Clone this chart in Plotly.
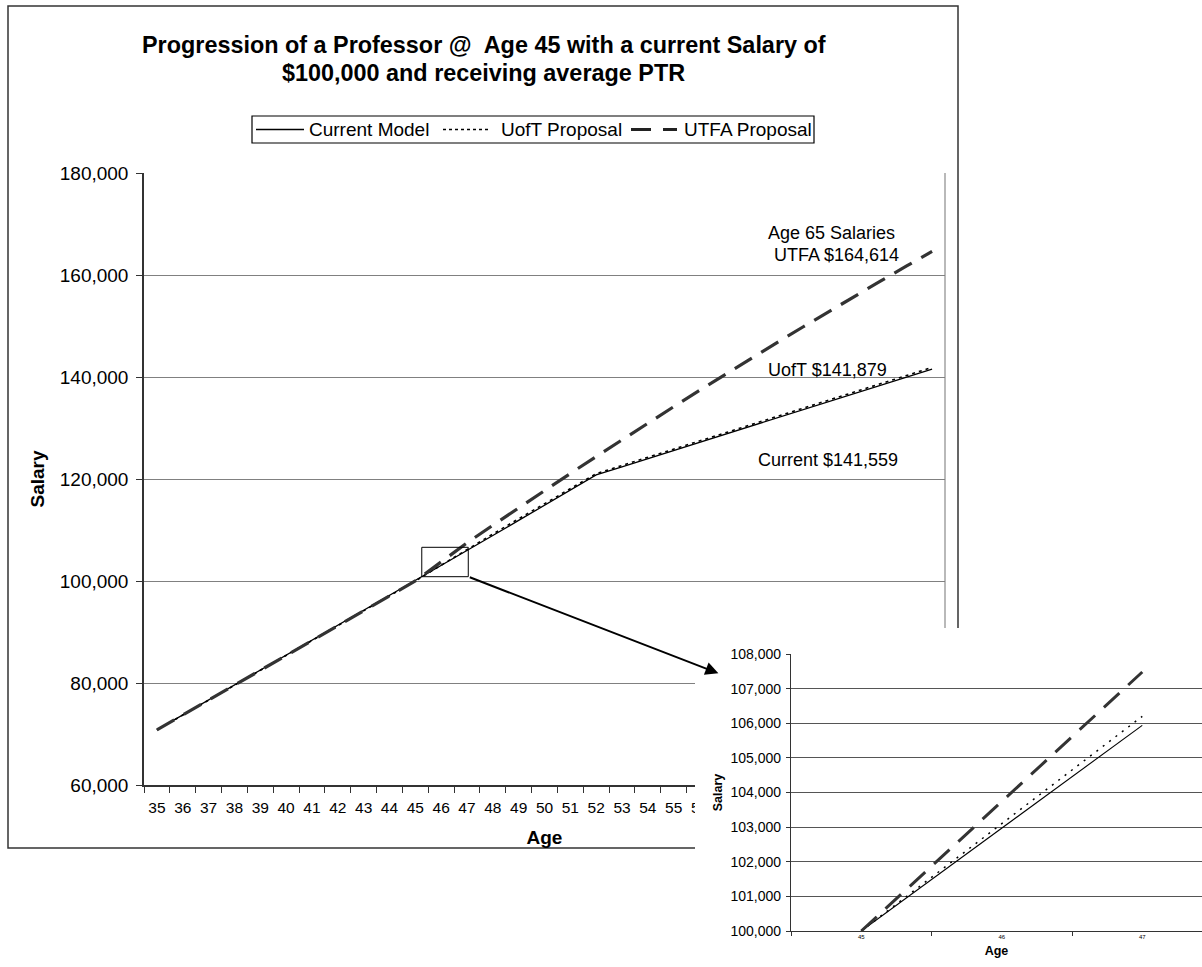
import plotly.graph_objects as go

W, H = 1202, 967
FONT = "Arial, Liberation Sans, sans-serif"

# ---- data -------------------------------------------------------------
ages = [35, 36, 37, 38, 39, 40, 41, 42, 43, 44, 45, 46, 47, 48, 49, 50,
        51, 52, 53, 54, 55, 56, 57, 58, 59, 60, 61, 62, 63, 64, 65]

current_model = [70800, 73720, 76640, 79560, 82480, 85400, 88320, 91240,
                 94160, 97080, 100000, 102970, 105940, 108910, 111880,
                 114850, 117820, 120790, 122388, 123985, 125583, 127181,
                 128778, 130376, 131974, 133571, 135169, 136766, 138364,
                 139962, 141559]

uoft_proposal = [70800, 73720, 76640, 79560, 82480, 85400, 88320, 91240,
                 94160, 97080, 100000, 103100, 106200, 109200, 112200,
                 115150, 118100, 121050, 122652, 124254, 125856, 127459,
                 129061, 130663, 132265, 133867, 135469, 137071, 138673,
                 140276, 141879]

utfa_proposal = [70800, 73720, 76640, 79560, 82480, 85400, 88320, 91240,
                 94160, 97080, 100000, 103740, 107480, 110930, 114348,
                 117733, 121086, 124406, 127694, 130950, 134173, 137364,
                 140522, 143648, 146742, 149803, 152832, 155829, 158793,
                 161725, 164614]

series_names = ["Current Model", "UofT Proposal", "UTFA Proposal"]

# detail view: ages 45 to 47
inset_ages = [45, 46, 47]

main_y_ticks = [60000, 80000, 100000, 120000, 140000, 160000, 180000]
inset_y_ticks = [100000, 101000, 102000, 103000, 104000, 105000, 106000,
                 107000, 108000]

# last age whose tick label is not under the detail panel
last_labelled_age = 56

title_lines = ["Progression of a Professor @  Age 45 with a current Salary of",
               "$100,000 and receiving average PTR"]


# ---- helpers ----------------------------------------------------------
def px_x(p):
    return p / W


def px_y(p):
    return 1 - p / H


cats = [str(a) for a in ages]
i0 = ages.index(inset_ages[0])
i1 = ages.index(inset_ages[-1]) + 1
inset_cats = [str(a) for a in inset_ages]
hidden_labels = {str(a): "" for a in ages if a > last_labelled_age}

all_series = [current_model, uoft_proposal, utfa_proposal]
main_styles = [
    dict(color="black", width=1.3, dash="solid"),
    dict(color="black", width=1.6, dash="3px,4px"),
    dict(color="#333333", width=3.2, dash="20px,11px"),
]
legend_styles = [
    dict(color="black", width=1.3, dash="solid"),
    dict(color="black", width=1.5, dash="3px,3px"),
    dict(color="#222222", width=3.2, dash="20px,12px"),
]
inset_styles = [
    dict(color="black", width=1.1, dash="solid"),
    dict(color="black", width=1.5, dash="2px,6px"),
    dict(color="#333333", width=3.0, dash="21px,12px"),
]

fig = go.Figure()

# main chart
for name, vals, st in zip(series_names, all_series, main_styles):
    fig.add_trace(go.Scatter(
        x=cats, y=vals, name=name, mode="lines", line=st,
        xaxis="x", yaxis="y",
    ))

# white panel that the detail view sits on
fig.add_trace(go.Scatter(x=[], y=[], xaxis="x2", yaxis="y2",
                         hoverinfo="skip"))

# detail view
for name, vals, st in zip(series_names, all_series, inset_styles):
    fig.add_trace(go.Scatter(
        x=inset_cats, y=vals[i0:i1], name=name, mode="lines", line=st,
        xaxis="x3", yaxis="y3",
    ))

axis_line = "#333333"
grid = "#808080"

fig.update_layout(
    template="none",
    width=W, height=H,
    margin=dict(l=0, r=0, t=0, b=0, pad=0, autoexpand=False),
    paper_bgcolor="white", plot_bgcolor="white",
    font=dict(family=FONT, color="black", size=19),
    showlegend=False,
    xaxis=dict(
        domain=[px_x(144), px_x(945)], anchor="y", type="category",
        range=[-0.5, len(ages) - 0.5], tickson="boundaries",
        ticks="outside", ticklen=6, tickcolor=axis_line, tickangle=0,
        showline=True, linecolor=axis_line, linewidth=1.5,
        showgrid=False, zeroline=False, automargin=False,
        tickfont=dict(size=15.5), ticklabelstandoff=8,
        labelalias=hidden_labels,
        title=dict(text="Age", font=dict(size=19, weight="bold"), standoff=15),
    ),
    yaxis=dict(
        domain=[px_y(785), px_y(173)], anchor="x",
        range=[main_y_ticks[0], main_y_ticks[-1]],
        tickvals=main_y_ticks, tickformat=",d",
        ticks="outside", ticklen=6, tickcolor=axis_line,
        showline=True, linecolor=axis_line, linewidth=1.5,
        showgrid=True, gridcolor=grid, gridwidth=1, zeroline=False,
        automargin=False, tickfont=dict(size=19), ticklabelstandoff=4,
        title=dict(text="Salary", font=dict(size=19, weight="bold"), standoff=10),
    ),
    xaxis2=dict(domain=[px_x(695), 1], anchor="y2", visible=False,
                automargin=False),
    yaxis2=dict(domain=[0, px_y(628)], anchor="x2", visible=False,
                automargin=False),
    xaxis3=dict(
        domain=[px_x(791), 1], anchor="y3", type="category",
        range=[-0.5, 2.425], tickson="boundaries",
        ticks="outside", ticklen=4, tickcolor=axis_line, tickangle=0,
        showline=True, linecolor=axis_line, linewidth=1.2,
        showgrid=False, zeroline=False, automargin=False,
        tickfont=dict(size=6),
        title=dict(text="Age", font=dict(size=12.5, weight="bold"), standoff=6),
    ),
    yaxis3=dict(
        domain=[px_y(931), px_y(654)], anchor="x3",
        range=[inset_y_ticks[0], inset_y_ticks[-1]],
        tickvals=inset_y_ticks, tickformat=",d",
        ticks="outside", ticklen=4, tickcolor=axis_line,
        showline=True, linecolor=axis_line, linewidth=1.2,
        showgrid=True, gridcolor="#555555", gridwidth=1, zeroline=False,
        automargin=False, tickfont=dict(size=14), ticklabelstandoff=2,
        title=dict(text="Salary", font=dict(size=12.5, weight="bold"), standoff=5),
    ),
)

# title, two centred lines
for line, cy in zip(title_lines, [45, 73]):
    fig.add_annotation(x=px_x(484), y=px_y(cy), xref="paper", yref="paper",
                       text=f"<b>{line}</b>", showarrow=False,
                       font=dict(size=23.4, family=FONT, color="black"),
                       xanchor="center", yanchor="middle")

# chart frame
fig.add_shape(type="rect", xref="paper", yref="paper",
              x0=px_x(8), x1=px_x(958), y0=px_y(848), y1=px_y(6),
              line=dict(color="#333333", width=1.5), layer="below")

# right edge of the main plot area
fig.add_shape(type="line", xref="x domain", yref="y domain",
              x0=1, x1=1, y0=0, y1=1,
              line=dict(color="#8a8a8a", width=1.2), layer="below")

# legend: framed row of line samples and names
leg_left, leg_right = 252, 814
leg_top, leg_bottom = 116, 143
leg_mid = (leg_top + leg_bottom) / 2
fig.add_shape(type="rect", xref="paper", yref="paper",
              x0=px_x(leg_left), x1=px_x(leg_right),
              y0=px_y(leg_bottom), y1=px_y(leg_top),
              line=dict(color="black", width=1.2), fillcolor="white")
sample_spans = [(256, 304), (443, 490), (631, 677)]
text_starts = [307, 499, 682]
for name, st, (sx0, sx1), tx in zip(series_names, legend_styles,
                                     sample_spans, text_starts):
    fig.add_shape(type="line", xref="paper", yref="paper",
                  x0=px_x(sx0), x1=px_x(sx1), y0=px_y(leg_mid), y1=px_y(leg_mid),
                  line=st)
    fig.add_annotation(x=px_x(tx), y=px_y(leg_mid + 0.5),
                       xref="paper", yref="paper", text=name, showarrow=False,
                       font=dict(size=19, family=FONT, color="black"),
                       xanchor="left", yanchor="middle")

# box marking the magnified region on the main chart
box_x0, box_x1 = 10.25, 12.05
box_y0, box_y1 = 100843, 106608
fig.add_shape(type="rect", xref="x", yref="y",
              x0=box_x0, x1=box_x1, y0=box_y0, y1=box_y1,
              line=dict(color="black", width=1))

# arrow from the box to the detail view
fig.add_annotation(
    x=21.73, y=81900, xref="x", yref="y",
    ax=box_x1, ay=box_y0, axref="x", ayref="y",
    text="", showarrow=True, arrowhead=2, arrowsize=1.3,
    arrowwidth=2, arrowcolor="black",
)

# age-65 value labels
label_font = dict(size=18, family=FONT, color="black")
labels = [
    ("Age 65 Salaries", 831, 233),
    (f"UTFA ${utfa_proposal[-1]:,}", 836, 255),
    (f"UofT ${uoft_proposal[-1]:,}", 827, 370),
    (f"Current ${current_model[-1]:,}", 828, 460),
]
for text, cx, cy in labels:
    fig.add_annotation(x=px_x(cx), y=px_y(cy), xref="paper", yref="paper",
                       text=text, showarrow=False, font=label_font,
                       xanchor="center", yanchor="middle")

fig.write_html("out.html")
